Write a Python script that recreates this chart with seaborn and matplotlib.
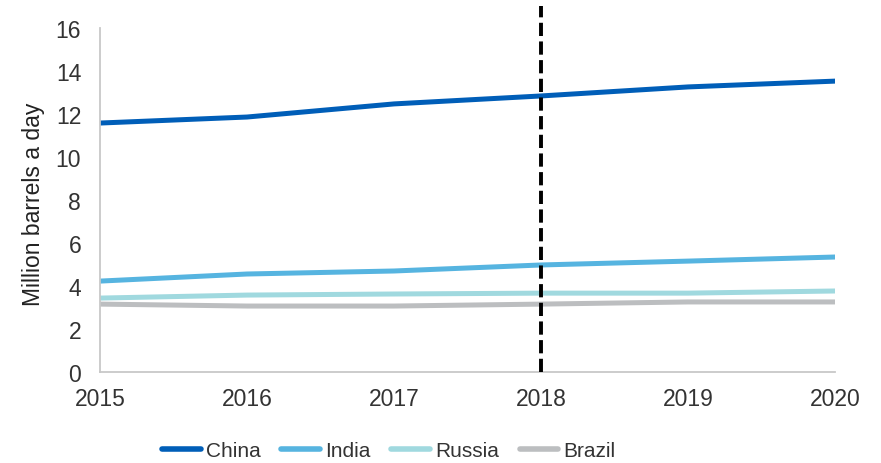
import matplotlib
matplotlib.use("Agg")
import matplotlib.pyplot as plt
import seaborn as sns
import pandas as pd

years = [2015, 2016, 2017, 2018, 2019, 2020]
china = [11.58, 11.86, 12.47, 12.84, 13.26, 13.53]
india = [4.23, 4.56, 4.70, 4.98, 5.16, 5.35]
russia = [3.44, 3.58, 3.63, 3.67, 3.67, 3.77]
brazil = [3.16, 3.07, 3.07, 3.16, 3.26, 3.26]
series_names = ["China", "India", "Russia", "Brazil"]
colors = ["#005EB8", "#56B4E0", "#A0D9DF", "#BCBEC0"]
ylabel = "Million barrels a day"
marker_year = 2018

sns.set_theme(style="white")
plt.rcParams["font.family"] = ["Liberation Sans", "DejaVu Sans"]

df = pd.DataFrame({
    "year": years * 4,
    "value": china + india + russia + brazil,
    "country": sum([[n] * len(years) for n in series_names], []),
})

fig = plt.figure(figsize=(8.81, 4.64), dpi=100)
ax = fig.add_axes([0.1135, 0.196, 0.8345, 0.7415])

sns.lineplot(data=df, x="year", y="value", hue="country", hue_order=series_names,
             palette=colors, linewidth=3.6, ax=ax, legend=True,
             solid_capstyle="round")

ax.plot([marker_year, marker_year], [0, 17], color="black", linestyle=(0, (3.4, 1.4)),
        linewidth=2.8, clip_on=False, zorder=5)

ax.set_xlim(2015, 2020)
ax.set_ylim(0, 16)
ax.set_yticks(range(0, 17, 2))
ax.set_xticks(years)
ax.set_xticklabels([str(y) for y in years])
ax.set_xlabel("")
ax.set_ylabel(ylabel, fontsize=16.5, color="#222222")
ax.yaxis.set_label_coords(-0.075, 0.49)

for s in ["top", "right"]:
    ax.spines[s].set_visible(False)
for s in ["left", "bottom"]:
    ax.spines[s].set_color("#C8C8C8")
    ax.spines[s].set_linewidth(1.3)

ax.tick_params(axis="both", which="both", labelsize=16.5, colors="#C8C8C8",
               labelcolor="#333333", length=5.5, width=1.2, direction="out")
ax.tick_params(axis="x", pad=5)
ax.tick_params(axis="y", pad=8)

handles, labels = ax.get_legend_handles_labels()
ax.legend_.remove()
leg = fig.legend(handles, labels, loc="center", bbox_to_anchor=(0.4415, 0.026), ncol=4,
                 frameon=False, prop={"family": ["Liberation Sans", "DejaVu Sans"], "size": 15},
                 handlelength=1.85, handletextpad=0.25,
                 columnspacing=1.0, borderpad=0, borderaxespad=0)
for line in leg.get_lines():
    line.set_linewidth(4)
    line.set_solid_capstyle("round")
for t in leg.get_texts():
    t.set_color("#333333")

fig.savefig("out.png", dpi=100)
